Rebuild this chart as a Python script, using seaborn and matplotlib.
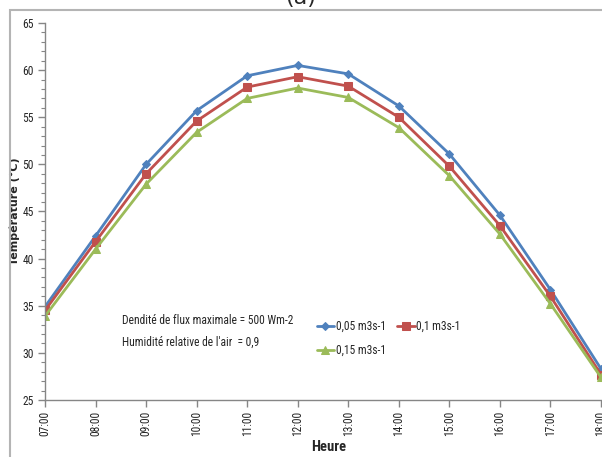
import matplotlib
matplotlib.use("Agg")
import matplotlib.pyplot as plt
from matplotlib import font_manager
from matplotlib.patches import Rectangle
from matplotlib.ticker import MultipleLocator
import numpy as np
import seaborn as sns

# Data
heures = ["07:00", "08:00", "09:00", "10:00", "11:00", "12:00",
          "13:00", "14:00", "15:00", "16:00", "17:00", "18:00"]
debit_005 = [34.9, 42.4, 50.0, 55.7, 59.4, 60.5, 59.6, 56.2, 51.1, 44.6, 36.7, 28.3]
debit_01 = [34.5, 41.8, 49.0, 54.6, 58.2, 59.3, 58.3, 55.0, 49.8, 43.5, 36.0, 27.7]
debit_015 = [33.9, 41.0, 47.9, 53.4, 57.0, 58.1, 57.1, 53.9, 48.8, 42.6, 35.2, 27.4]
series_labels = ["0,05 m3s-1", "0,1 m3s-1", "0,15 m3s-1"]

sns.set_style("white")
installed = {f.name for f in font_manager.fontManager.ttflist}
narrow = next((f for f in ["Liberation Sans Narrow", "Roboto Condensed"] if f in installed),
              None)
plt.rcParams["font.family"] = [narrow or "Liberation Sans", "DejaVu Sans"]
txt_size = 8.3 if narrow else 7.5

fig = plt.figure(figsize=(6.02, 4.57), dpi=100)
ax = fig.add_axes([45 / 602, 1 - 400 / 457, 556 / 602, 377 / 457])

colors = ["#4F81BD", "#C0504D", "#9BBB59"]
markers = ["D", "s", "^"]
msizes = [4, 6, 6]
x = np.arange(len(heures))
for vals, lab, c, m, ms in zip([debit_005, debit_01, debit_015], series_labels,
                               colors, markers, msizes):
    sns.lineplot(x=x, y=vals, ax=ax, color=c, marker=m, markersize=ms,
                 markeredgecolor=c, linewidth=2, label=lab)

ax.set_xlim(0, len(heures) - 1)
ax.set_ylim(25, 65)
ax.set_xticks(x)
ax.set_xticklabels(heures, rotation=90, fontsize=txt_size)
ax.yaxis.set_major_locator(MultipleLocator(5))
ax.yaxis.set_minor_locator(MultipleLocator(1))
ax.tick_params(axis="y", which="major", direction="out", length=5, width=1,
               color="#868686", labelsize=txt_size, left=True, pad=3)
ax.tick_params(axis="y", which="minor", direction="out", length=3, width=0.8,
               color="#868686", left=True)
ax.tick_params(axis="x", direction="out", length=5, width=1, color="#868686",
               bottom=True, labelsize=txt_size, pad=3)
for s in ["top", "right"]:
    ax.spines[s].set_visible(False)
for s in ["left", "bottom"]:
    ax.spines[s].set_color("#868686")
    ax.spines[s].set_linewidth(1)
ax.grid(False)

ax.set_xlabel("Heure", fontsize=10.5, fontweight="bold")
ax.xaxis.set_label_coords(0.51, -0.105)
ax.set_ylabel("Température (°C)", fontsize=8, fontweight="bold", family="DejaVu Sans")
ax.yaxis.set_label_coords(-0.045, 0.5)

ax.text(122 / 602, 1 - 321 / 457, "Dendité de flux maximale = 500 Wm-2",
        transform=fig.transFigure, fontsize=txt_size, va="center")
ax.text(122 / 602, 1 - 342 / 457, "Humidité relative de l'air  = 0,9",
        transform=fig.transFigure, fontsize=txt_size, va="center")

# reorder so the legend fills row by row like the original
h, l = ax.get_legend_handles_labels()
order = [0, 2, 1]
ax.legend([h[i] for i in order], [l[i] for i in order], loc="upper left",
          bbox_to_anchor=(311 / 602, 1 - 314 / 457), bbox_transform=fig.transFigure,
          ncol=2, frameon=False, fontsize=txt_size, handlelength=1.5,
          handletextpad=0.15, columnspacing=1.0, labelspacing=0.95, borderpad=0)

fig.text(0.5, 1 - 8 / 457, "(a)", ha="center", va="bottom", fontsize=16,
         family="DejaVu Sans")
fig.patches.append(Rectangle((10 / 602, -0.1), 1.0, 1 - 10 / 457 + 0.1,
                             transform=fig.transFigure, fill=False,
                             edgecolor="#b4b4b4", linewidth=1.5))

fig.savefig("out.png", dpi=100)
